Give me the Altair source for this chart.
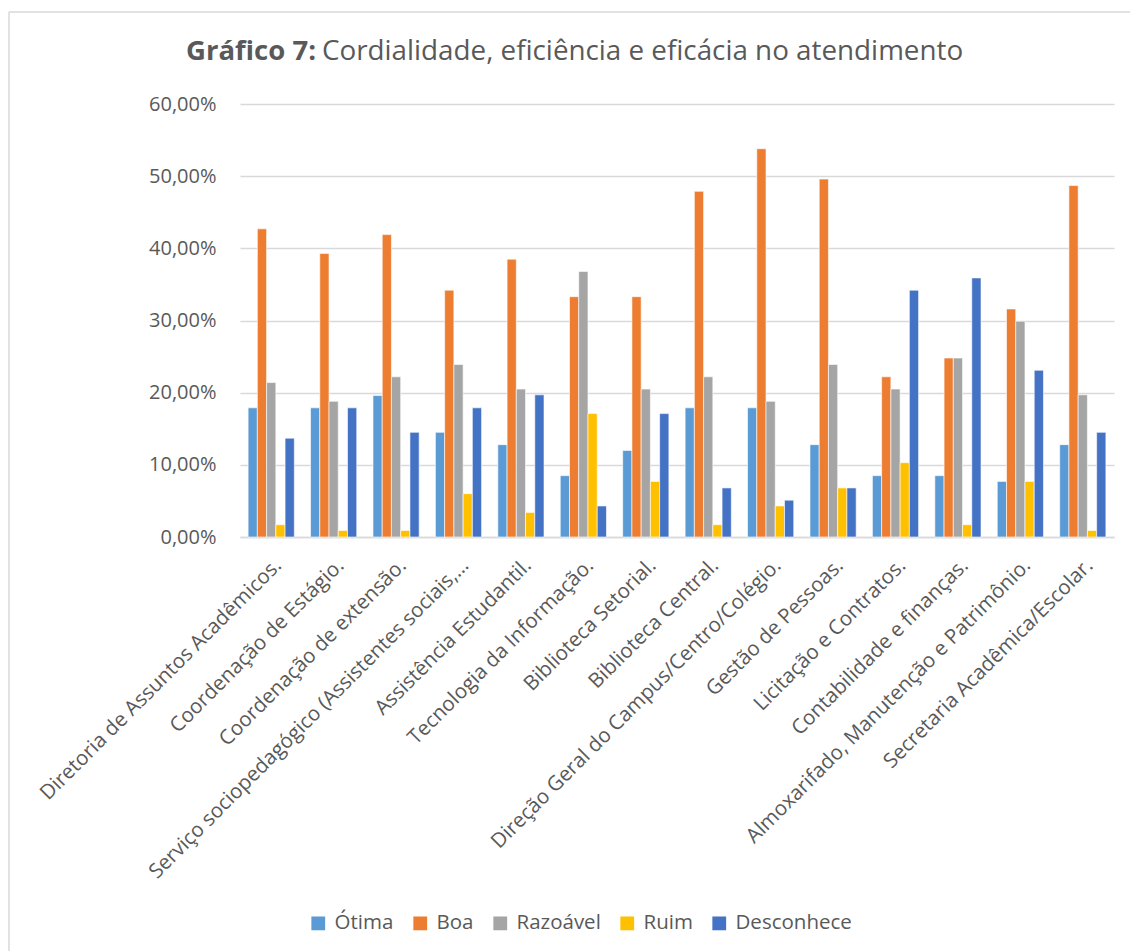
import altair as alt
import pandas as pd

categories = [
    "Diretoria de Assuntos Acadêmicos.",
    "Coordenação de Estágio.",
    "Coordenação de extensão.",
    "Serviço sociopedagógico (Assistentes sociais,…",
    "Assistência Estudantil.",
    "Tecnologia da Informação.",
    "Biblioteca Setorial.",
    "Biblioteca Central.",
    "Direção Geral do Campus/Centro/Colégio.",
    "Gestão de Pessoas.",
    "Licitação e Contratos.",
    "Contabilidade e finanças.",
    "Almoxarifado, Manutenção e Patrimônio.",
    "Secretaria Acadêmica/Escolar.",
]
series = ["Ótima", "Boa", "Razoável", "Ruim", "Desconhece"]
colors = ["#5B9BD5", "#ED7D31", "#A5A5A5", "#FFC000", "#4472C4"]

otima = [17.9, 17.9, 19.6, 14.5, 12.8, 8.5, 12.0, 17.9, 17.9, 12.8, 8.5, 8.5, 7.7, 12.8]
boa = [42.7, 39.3, 41.9, 34.2, 38.5, 33.3, 33.3, 47.9, 53.8, 49.6, 22.2, 24.8, 31.6, 48.7]
razoavel = [21.4, 18.8, 22.2, 23.9, 20.5, 36.8, 20.5, 22.2, 18.8, 23.9, 20.5, 24.8, 29.9, 19.7]
ruim = [1.7, 0.9, 0.9, 6.0, 3.4, 17.1, 7.7, 1.7, 4.3, 6.8, 10.3, 1.7, 7.7, 0.9]
desconhece = [13.7, 17.9, 14.5, 17.9, 19.7, 4.3, 17.1, 6.8, 5.1, 6.8, 34.2, 35.9, 23.1, 14.5]

title_bold = "Gráfico 7:"
title_rest = "Cordialidade, eficiência e eficácia no atendimento"

rows = []
for s, vals in zip(series, [otima, boa, razoavel, ruim, desconhece]):
    for c, v in zip(categories, vals):
        rows.append({"categoria": c, "serie": s, "valor": v})
df = pd.DataFrame(rows)

FONT = "Open Sans"
TXT = "#595959"

bars = alt.Chart(df).mark_bar(stroke="white", strokeWidth=0.6).encode(
    x=alt.X(
        "categoria:N",
        sort=categories,
        title=None,
        scale=alt.Scale(paddingInner=0.26, paddingOuter=0.13),
        axis=alt.Axis(
            labelAngle=-45,
            labelFontSize=20.5,
            labelColor=TXT,
            labelFont=FONT,
            labelLimit=0,
            labelPadding=18,
            ticks=False,
            domain=True,
            domainColor="#d9d9d9",
            domainWidth=1.5,
            grid=False,
        ),
    ),
    xOffset=alt.XOffset("serie:N", sort=series, scale=alt.Scale(paddingInner=0, paddingOuter=0)),
    y=alt.Y(
        "valor:Q",
        title=None,
        scale=alt.Scale(domain=[0, 60]),
        axis=alt.Axis(
            values=[0, 10, 20, 30, 40, 50, 60],
            labelExpr="replace(format(datum.value, '.2f'), '.', ',') + '%'",
            labelFontSize=20,
            labelColor=TXT,
            labelFont=FONT,
            labelPadding=24,
            ticks=False,
            domain=False,
            gridColor="#d9d9d9",
            gridWidth=1.3,
        ),
    ),
    color=alt.Color(
        "serie:N",
        sort=series,
        scale=alt.Scale(domain=series, range=colors),
        legend=alt.Legend(
            title=None,
            orient="none",
            direction="horizontal",
            legendX=68,
            legendY=809,
            symbolType="square",
            symbolSize=190,
            symbolStrokeWidth=0,
            labelFontSize=20.5,
            labelFont=FONT,
            labelColor=TXT,
            columnPadding=16,
            symbolOffset=0,
            labelOffset=6,
        ),
    ),
)

t1 = alt.Chart(pd.DataFrame({"t": [title_bold]})).mark_text(
    align="right", baseline="middle", fontSize=27.5, fontWeight="bold", font=FONT, color=TXT
).encode(text="t:N", x=alt.value(76), y=alt.value(-52))

t2 = alt.Chart(pd.DataFrame({"t": [title_rest]})).mark_text(
    align="left", baseline="middle", fontSize=27.8, font=FONT, color=TXT
).encode(text="t:N", x=alt.value(82), y=alt.value(-52))

border_df = pd.DataFrame({"b": [1]})
left_border = alt.Chart(border_df).mark_rule(color="#d9d9d9", strokeWidth=1.5).encode(
    x=alt.value(-231), y=alt.value(-92), y2=alt.value(847)
)
top_border = alt.Chart(border_df).mark_rule(color="#d9d9d9", strokeWidth=1.5).encode(
    x=alt.value(-231), x2=alt.value(890), y=alt.value(-92)
)

chart = alt.layer(left_border, top_border, bars, t1, t2).properties(
    width=874,
    height=433,
    padding={"left": 240, "top": 104, "right": 16, "bottom": 414},
    autosize=alt.AutoSizeParams(type="none"),
    background="white",
).configure_view(stroke=None)

chart.save("out.html", embed_options={"renderer": "svg", "actions": False})
